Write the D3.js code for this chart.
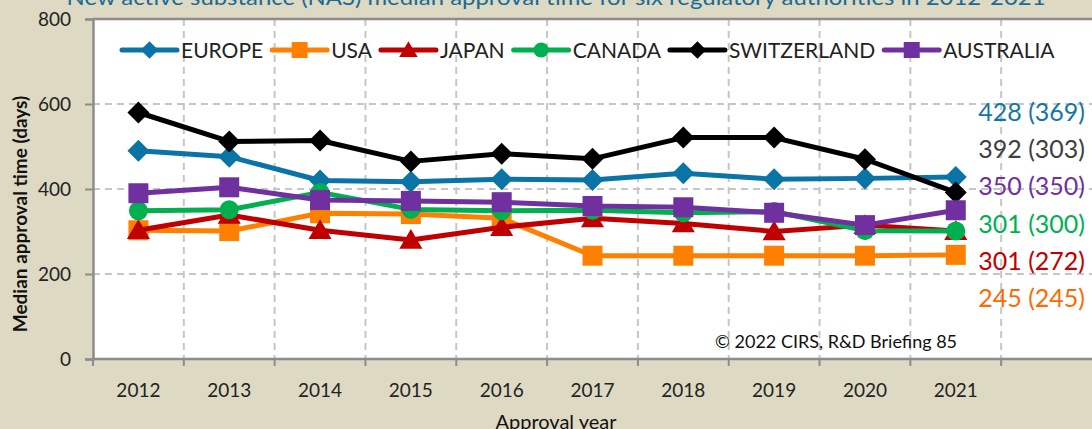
<!DOCTYPE html>
<html>
<head>
<meta charset="utf-8">
<script src="https://cdn.jsdelivr.net/npm/d3@7"></script>
<style>
  body { margin: 0; background: #DDD9C3; }
  svg { display: block; font-family: Lato, "Open Sans", sans-serif; }
</style>
</head>
<body>
<div id="chart"></div>
<script>
// values
var years = ["2012", "2013", "2014", "2015", "2016", "2017", "2018", "2019", "2020", "2021"];
var europe = [490, 476, 420, 417, 423, 421, 437, 423, 425, 428];
var usa = [303, 301, 343, 341, 331, 243, 243, 243, 243, 245];
var japan = [303, 339, 303, 280, 310, 331, 319, 300, 315, 301];
var canada = [349, 351, 392, 352, 349, 350, 344, 347, 302, 301];
var switzerland = [580, 512, 514, 465, 483, 471, 521, 521, 470, 392];
var australia = [390, 404, 374, 372, 369, 360, 357, 344, 315, 350];
var yTicks = [0, 200, 400, 600, 800];

var seriesNames = ["EUROPE", "USA", "JAPAN", "CANADA", "SWITZERLAND", "AUSTRALIA"];
var seriesValues = [europe, usa, japan, canada, switzerland, australia];
var seriesColors = ["#0B74A6", "#FF8000", "#C00000", "#00B050", "#000000", "#7030A0"];
var seriesMarkers = ["diamond", "square", "triangle", "circle", "diamond", "square"];

var endLabels = ["428 (369)", "392 (303)", "350 (350)", "301 (300)", "301 (272)", "245 (245)"];
var endColors = ["#1675A8", "#404040", "#7030A0", "#00B050", "#C00000", "#FF6A00"];

var title = "New active substance (NAS) median approval time for six regulatory authorities in 2012-2021";

var width = 1092, height = 429;
var plotLeft = 93, plotRight = 1092, plotTop = 19, plotBottom = 359;

var svg = d3.select("#chart").append("svg")
  .attr("width", width)
  .attr("height", height);

svg.append("rect").attr("width", width).attr("height", height).attr("fill", "#DDD9C3");

// one extra empty category on the right, where the end labels go
var x = d3.scaleBand()
  .domain(years.concat([""]))
  .range([plotLeft, plotRight]);
var y = d3.scaleLinear()
  .domain([0, 800])
  .range([plotBottom, plotTop]);

svg.append("rect")
  .attr("x", plotLeft).attr("y", plotTop)
  .attr("width", plotRight - plotLeft).attr("height", plotBottom - plotTop)
  .attr("fill", "#fff");

// grid
svg.append("g")
  .selectAll("line")
  .data(yTicks.slice(1, 4))
  .join("line")
  .attr("x1", plotLeft).attr("x2", plotRight)
  .attr("y1", function(d) { return y(d); })
  .attr("y2", function(d) { return y(d); })
  .attr("stroke", "#C6C6C6").attr("stroke-width", 2)
  .attr("stroke-dasharray", "7,5");

svg.append("g")
  .selectAll("line")
  .data(x.domain().slice(1))
  .join("line")
  .attr("x1", function(d) { return x(d); })
  .attr("x2", function(d) { return x(d); })
  .attr("y1", plotTop).attr("y2", plotBottom)
  .attr("stroke", "#C6C6C6").attr("stroke-width", 2)
  .attr("stroke-dasharray", "7,5");

// top border
svg.append("line")
  .attr("x1", plotLeft).attr("x2", plotRight)
  .attr("y1", y(800)).attr("y2", y(800))
  .attr("stroke", "#8C8C8C").attr("stroke-width", 2.5);

// y axis
var yAxis = svg.append("g")
  .attr("transform", "translate(" + plotLeft + ",0)")
  .call(d3.axisLeft(y).tickValues(yTicks).tickSize(8).tickPadding(14));
yAxis.select(".domain").attr("stroke", "#8C8C8C").attr("stroke-width", 2.5);
yAxis.selectAll(".tick line").attr("stroke", "#8C8C8C").attr("stroke-width", 2);
yAxis.selectAll("text").attr("font-size", 19).attr("fill", "#222").attr("font-family", "Lato, sans-serif");

// x axis: ticks at category boundaries
var xAxis = svg.append("g")
  .attr("transform", "translate(0," + plotBottom + ")");
xAxis.append("line")
  .attr("x1", plotLeft).attr("x2", plotRight)
  .attr("stroke", "#8C8C8C").attr("stroke-width", 2.5);
xAxis.selectAll(".xt")
  .data(x.domain())
  .join("line")
  .attr("class", "xt")
  .attr("x1", function(d) { return x(d); })
  .attr("x2", function(d) { return x(d); })
  .attr("y1", 0).attr("y2", 7)
  .attr("stroke", "#8C8C8C").attr("stroke-width", 2);
xAxis.selectAll("text")
  .data(years)
  .join("text")
  .attr("x", function(d) { return x(d) + x.bandwidth() / 2; })
  .attr("y", 38)
  .attr("text-anchor", "middle")
  .attr("font-size", 19)
  .attr("fill", "#222")
  .text(function(d) { return d; });

// markers
function markerPath(type, s) {
  if (type == "diamond") {
    return "M0," + (-s) + "L" + s + ",0L0," + s + "L" + (-s) + ",0Z";
  } else if (type == "square") {
    return "M" + (-s) + "," + (-s) + "H" + s + "V" + s + "H" + (-s) + "Z";
  } else if (type == "triangle") {
    return "M0," + (-s) + "L" + (s * 1.05) + "," + (s * 0.8) + "L" + (-s * 1.05) + "," + (s * 0.8) + "Z";
  }
  return d3.arc()({innerRadius: 0, outerRadius: s, startAngle: 0, endAngle: 2 * Math.PI});
}
var markerSize = {"diamond": 11, "square": 10, "triangle": 11, "circle": 9.5};

var line = d3.line()
  .x(function(d, i) { return x(years[i]) + x.bandwidth() / 2; })
  .y(function(d) { return y(d); });

for (var i = 0; i < seriesNames.length; i++) {
  var g = svg.append("g");
  g.append("path")
    .datum(seriesValues[i])
    .attr("fill", "none")
    .attr("stroke", seriesColors[i])
    .attr("stroke-width", 5)
    .attr("stroke-linejoin", "round")
    .attr("d", line);
  var m = seriesMarkers[i];
  g.selectAll(".mk")
    .data(seriesValues[i])
    .join("path")
    .attr("class", "mk")
    .attr("transform", function(d, j) { return "translate(" + (x(years[j]) + x.bandwidth() / 2) + "," + y(d) + ")"; })
    .attr("d", markerPath(m, markerSize[m]))
    .attr("fill", seriesColors[i]);
}

// legend
var legend = svg.append("g").attr("transform", "translate(0,50)");
var lx = 122;
for (var i = 0; i < seriesNames.length; i++) {
  var item = legend.append("g").attr("transform", "translate(" + lx + ",0)");
  item.append("line")
    .attr("x1", 0).attr("x2", 55)
    .attr("stroke", seriesColors[i]).attr("stroke-width", 5)
    .attr("stroke-linecap", "round");
  var m = seriesMarkers[i];
  item.append("path")
    .attr("transform", "translate(27.5,0)")
    .attr("d", markerPath(m, markerSize[m] * 0.8))
    .attr("fill", seriesColors[i]);
  var t = item.append("text")
    .attr("x", 59).attr("y", 7.5)
    .attr("font-size", 21)
    .attr("fill", "#222")
    .text(seriesNames[i]);
  lx += 59 + t.node().getComputedTextLength() + 9;
}

// end labels
svg.append("g")
  .selectAll("text")
  .data(endLabels)
  .join("text")
  .attr("x", 1085)
  .attr("y", function(d, i) { return 121 + i * 37.2; })
  .attr("text-anchor", "end")
  .attr("font-size", 25)
  .attr("fill", function(d, i) { return endColors[i]; })
  .text(function(d) { return d; });

svg.append("text")
  .attr("x", 836).attr("y", 348)
  .attr("text-anchor", "middle")
  .attr("font-size", 18)
  .attr("fill", "#111")
  .text("\u00A9 2022 CIRS, R&D Briefing 85");

// axis titles
svg.append("text")
  .attr("transform", "translate(27,214) rotate(-90)")
  .attr("text-anchor", "middle")
  .attr("font-size", 19)
  .attr("font-weight", "bold")
  .attr("fill", "#111")
  .text("Median approval time (days)");

svg.append("text")
  .attr("x", 556).attr("y", 429)
  .attr("text-anchor", "middle")
  .attr("font-size", 20)
  .attr("fill", "#111")
  .text("Approval year");

// chart title, cut off at the top like the original
svg.append("text")
  .attr("x", 556).attr("y", 5)
  .attr("text-anchor", "middle")
  .attr("font-size", 22)
  .attr("fill", "#1A6A96")
  .attr("textLength", 979)
  .attr("lengthAdjust", "spacingAndGlyphs")
  .text(title);
</script>
</body>
</html>
